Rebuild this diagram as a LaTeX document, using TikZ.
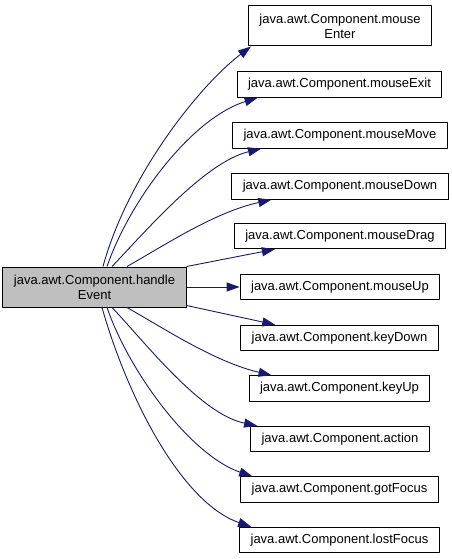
\documentclass[tikz,border=0pt]{standalone}
\usepackage{fontspec}
\setmainfont{Liberation Sans}
\usepackage{tikz}
\usetikzlibrary{arrows.meta,calc}
\definecolor{edgeblue}{HTML}{191970}
\definecolor{callergray}{HTML}{BFBFBF}
\tikzset{fnode/.style={draw=black,line width=1pt,fill=white,inner xsep=11pt,inner ysep=2pt,minimum height=25.5pt,align=center},
  callarr/.style={edgeblue,line width=0.9pt,-{Triangle[length=13pt,width=9pt]}}}

\begin{document}
\begin{tikzpicture}[x=1pt,y=-1pt,line join=round,font=\fontsize{13}{15}\selectfont]
\useasboundingbox (0,0) rectangle (452,559);
% --- caller
\node[fnode,fill=callergray,minimum height=40pt] (he) at (94.5,287) {java.awt.Component.handle\\Event};
% --- callees
\node[fnode,minimum height=40pt] (enter) at (340,26) {java.awt.Component.mouse\\Enter};
\node[fnode] (exit) at (339.5,84.5) {java.awt.Component.mouseExit};
\node[fnode] (move) at (340,135.5) {java.awt.Component.mouseMove};
\node[fnode] (down) at (340,186.5) {java.awt.Component.mouseDown};
\node[fnode] (drag) at (340,236) {java.awt.Component.mouseDrag};
\node[fnode] (up) at (340,287) {java.awt.Component.mouseUp};
\node[fnode] (keydown) at (339.5,338) {java.awt.Component.keyDown};
\node[fnode] (keyup) at (339.5,388.5) {java.awt.Component.keyUp};
\node[fnode] (action) at (340,439) {java.awt.Component.action};
\node[fnode] (gotfocus) at (339.5,489.5) {java.awt.Component.gotFocus};
\node[fnode] (lostfocus) at (339.5,540) {java.awt.Component.lostFocus};
% --- calls
\draw[callarr] ([xshift=8.5pt]he.north) .. controls (128,175) and (200,85) .. ([xshift=3pt]enter.south west);
\draw[callarr] ([xshift=12.5pt]he.north) .. controls (130,200) and (192,118) .. ([xshift=21pt]exit.south west);
\draw[callarr] ([xshift=17.5pt]he.north) .. controls (145,232) and (205,162) .. ([xshift=29pt]move.south west);
\draw[callarr] ([xshift=32.5pt]he.north) .. controls (165,245) and (215,212) .. ([xshift=40pt]down.south west);
\draw[callarr] (he.north east) -- ([xshift=41pt]drag.south west);
\draw[callarr] (he.east) -- (up.west);
\draw[callarr] ([yshift=2pt]he.south east) -- ([xshift=35pt]keydown.north west);
\draw[callarr] ([xshift=32.5pt]he.south) .. controls (165,329) and (215,362) .. ([xshift=23pt]keyup.north west);
\draw[callarr] ([xshift=17.5pt]he.south) .. controls (145,342) and (200,414) .. ([xshift=7pt]action.north west);
\draw[callarr] ([xshift=12.5pt]he.south) .. controls (130,374) and (192,456) .. ([xshift=12pt]gotfocus.north west);
\draw[callarr] ([xshift=7.5pt]he.south) .. controls (128,399) and (182,503) .. ([xshift=12pt]lostfocus.north west);
\end{tikzpicture}
\end{document}
